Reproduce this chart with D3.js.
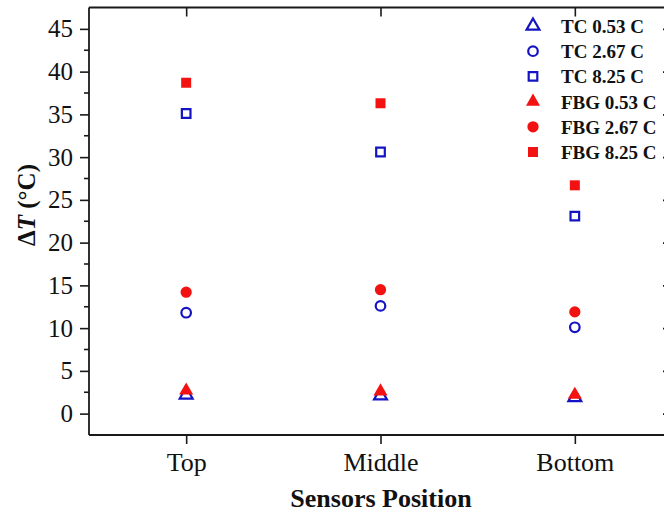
<!DOCTYPE html>
<html>
<head>
<meta charset="utf-8">
<script src="https://cdn.jsdelivr.net/npm/d3@7/dist/d3.min.js"></script>
<style>
  html, body { margin: 0; padding: 0; background: #fff; }
  svg { display: block; }
  text { font-family: "Liberation Serif", "Times New Roman", serif; fill: #111; }
</style>
</head>
<body>
<svg id="chart" width="664" height="515"></svg>
<script>
// Sensor positions along the x axis
const categories = ["Top", "Middle", "Bottom"];

// Temperature rise ΔT (°C) per position, thermocouple (TC) and FBG readings
const tc053  = [2.2, 2.1, 1.9];
const tc267  = [11.8, 12.6, 10.1];
const tc825  = [35.1, 30.6, 23.1];
const fbg053 = [2.7, 2.6, 2.2];
const fbg267 = [14.2, 14.5, 11.9];
const fbg825 = [38.7, 36.3, 26.7];

const seriesNames = ["TC 0.53 C", "TC 2.67 C", "TC 8.25 C", "FBG 0.53 C", "FBG 2.67 C", "FBG 8.25 C"];
const yTicks = [0, 5, 10, 15, 20, 25, 30, 35, 40, 45];

const BLUE = "#1414c4";
const RED = "#f21212";
const FONT = "'Liberation Serif','Times New Roman',serif";

const series = [
  { name: seriesNames[0], values: tc053,  shape: d3.symbolTriangle, size: 72, color: BLUE, filled: false },
  { name: seriesNames[1], values: tc267,  shape: d3.symbolCircle,   size: 72, color: BLUE, filled: false },
  { name: seriesNames[2], values: tc825,  shape: d3.symbolSquare,   size: 74, color: BLUE, filled: false },
  { name: seriesNames[3], values: fbg053, shape: d3.symbolTriangle, size: 85, color: RED,  filled: true },
  { name: seriesNames[4], values: fbg267, shape: d3.symbolCircle,   size: 100, color: RED,  filled: true },
  { name: seriesNames[5], values: fbg825, shape: d3.symbolSquare,   size: 100, color: RED,  filled: true }
];

const svg = d3.select("#chart");
const plotL = 89, plotR = 672, plotT = 7.5, plotB = 435;

const x = d3.scaleLinear().domain([0.5, 3.5]).range([plotL, plotR]);
const y = d3.scaleLinear().domain([-2.5, 47.5]).range([plotB, plotT]);

const axisColor = "#1a1a1a";
const axisW = 1.8;

// Left axis with outward major and minor ticks
const yAxis = d3.axisLeft(y).tickValues(yTicks).tickSize(9).tickPadding(7).tickFormat(d3.format("d"));
const gy = svg.append("g").attr("transform", `translate(${plotL},0)`).call(yAxis);
const yMinor = d3.range(2.5, 47.5, 5);
gy.selectAll(".minor").data(yMinor).enter().append("line")
  .attr("class", "minor").attr("x1", -5).attr("x2", 0)
  .attr("y1", d => y(d)).attr("y2", d => y(d));

// Bottom axis with category ticks
const xAxis = d3.axisBottom(x).tickValues([1, 2, 3]).tickSize(9).tickPadding(9)
  .tickFormat((d, i) => categories[i]);
const gx = svg.append("g").attr("transform", `translate(0,${plotB})`).call(xAxis);

// Top axis (ticks pointing into the plot)
const gt = svg.append("g").attr("transform", `translate(0,${plotT})`)
  .call(d3.axisTop(x).tickValues([1, 2, 3]).tickSize(-9).tickFormat(""));

// Right axis (ticks pointing into the plot)
const gr = svg.append("g").attr("transform", `translate(${plotR},0)`)
  .call(d3.axisRight(y).tickValues(yTicks).tickSize(-9).tickFormat(""));
gr.selectAll(".minor").data(yMinor).enter().append("line")
  .attr("class", "minor").attr("x1", -5).attr("x2", 0)
  .attr("y1", d => y(d)).attr("y2", d => y(d));

[gy, gx, gt, gr].forEach(g => {
  g.select(".domain").attr("stroke", axisColor).attr("stroke-width", axisW);
  g.selectAll("line").attr("stroke", axisColor).attr("stroke-width", 1.6);
  g.selectAll("text").attr("font-family", FONT).attr("fill", "#111");
});
gy.selectAll("text").attr("font-size", 25);
gx.selectAll("text").attr("font-size", 26);
// Full frame lines (domains without end caps)
[gy, gr].forEach(g => g.select(".domain").attr("d", `M0,${plotT}V${plotB}`));
[gx, gt].forEach(g => g.select(".domain").attr("d", `M${plotL},0H${plotR}`));

// Data markers
series.forEach(s => {
  const sym = d3.symbol().type(s.shape).size(s.size);
  svg.append("g").selectAll("path").data(s.values).enter().append("path")
    .attr("d", sym)
    .attr("transform", (d, i) => `translate(${x(i + 1)},${y(d)})`)
    .attr("fill", s.filled ? s.color : "#fff")
    .attr("stroke", s.filled ? "none" : s.color)
    .attr("stroke-width", s.filled ? 0 : 2.2);
});

// Legend
const legend = svg.append("g");
const legY0 = 26, legDy = 25.2;
series.forEach((s, i) => {
  const ly = legY0 + i * legDy;
  legend.append("path")
    .attr("d", d3.symbol().type(s.shape).size(s.size)())
    .attr("transform", `translate(533,${ly})`)
    .attr("fill", s.filled ? s.color : "#fff")
    .attr("stroke", s.filled ? "none" : s.color)
    .attr("stroke-width", s.filled ? 0 : 2.2);
  legend.append("text")
    .attr("x", 561).attr("y", ly + 7)
    .attr("font-family", FONT)
    .attr("font-size", 19).attr("font-weight", "bold")
    .text(s.name);
});

// Axis titles
svg.append("text")
  .attr("x", 381).attr("y", 507)
  .attr("text-anchor", "middle")
  .attr("font-family", FONT)
  .attr("font-size", 26).attr("font-weight", "bold")
  .text("Sensors Position");

const yt = svg.append("text")
  .attr("transform", "translate(35,205) rotate(-90)")
  .attr("text-anchor", "middle")
  .attr("font-family", FONT)
  .attr("font-size", 25).attr("font-weight", "bold");
yt.append("tspan").text("Δ");
yt.append("tspan").attr("font-style", "italic").text("T");
yt.append("tspan").text(" (°C)");
</script>
</body>
</html>
